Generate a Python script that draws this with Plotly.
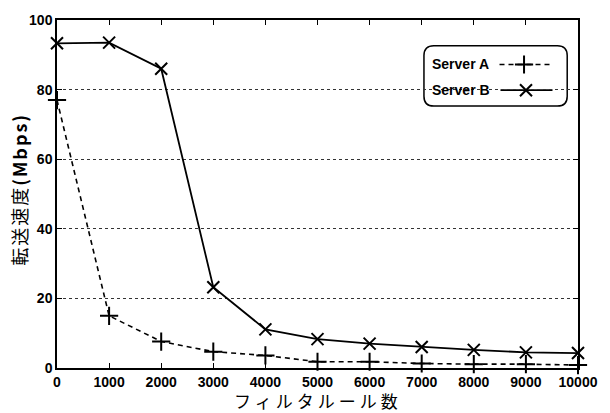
import plotly.graph_objects as go

rules = [0, 1000, 2000, 3000, 4000, 5000, 6000, 7000, 8000, 9000, 10000]
server_a = [77.0, 15.0, 7.6, 4.7, 3.6, 1.8, 1.8, 1.3, 1.1, 1.1, 0.85]
server_b = [93.3, 93.5, 86.0, 23.2, 11.1, 8.3, 7.0, 6.05, 5.2, 4.5, 4.3]
x_ticks = rules
y_ticks = [0, 20, 40, 60, 80, 100]

W, H = 610, 413
ML, MR, MT, MB = 57, 22, 16, 45
PW, PH = W - ML - MR, H - MT - MB


def px(xp):
    return (xp - ML) / PW


def py(yp):
    return (H - MB - yp) / PH


LAT = "Liberation Sans, Arial, Helvetica, sans-serif"
CJK = "Noto Sans CJK JP, Liberation Sans, sans-serif"

fig = go.Figure()
fig.add_trace(go.Scatter(
    x=rules, y=server_a, mode="lines+markers", name="Server A",
    line=dict(color="black", width=1.6, dash="5px,4px"),
    marker=dict(symbol="cross-thin", size=13, line=dict(color="black", width=2)),
    showlegend=False, cliponaxis=False))
fig.add_trace(go.Scatter(
    x=rules, y=server_b, mode="lines+markers", name="Server B",
    line=dict(color="black", width=1.8),
    marker=dict(symbol="x-thin", size=12, line=dict(color="black", width=2)),
    showlegend=False, cliponaxis=False))

# legend sample markers on an overlay axis in [0,1]
fig.add_trace(go.Scatter(
    x=[px(533)], y=[py(61)], xaxis="x2", yaxis="y2", mode="markers",
    marker=dict(symbol="cross-thin", size=13, line=dict(color="black", width=2)),
    showlegend=False, hoverinfo="skip"))
fig.add_trace(go.Scatter(
    x=[px(535)], y=[py(87)], xaxis="x2", yaxis="y2", mode="markers",
    marker=dict(symbol="x-thin", size=12, line=dict(color="black", width=2)),
    showlegend=False, hoverinfo="skip"))

axis_common = dict(
    showline=True, linecolor="black", linewidth=1.5, mirror="ticks",
    ticks="inside", ticklen=5, tickwidth=1, tickcolor="black",
    tickfont=dict(family=LAT, size=14, color="black", weight="bold"),
    zeroline=False,
)

fig.update_layout(
    width=W, height=H,
    margin=dict(l=ML, r=MR, t=MT, b=MB),
    paper_bgcolor="white", plot_bgcolor="white",
    xaxis=dict(range=[0, 10000], tickvals=x_ticks, ticktext=[str(v) for v in x_ticks],
               showgrid=False, **axis_common),
    yaxis=dict(range=[0, 100], tickvals=y_ticks, ticktext=[str(v) for v in y_ticks],
               showgrid=True, gridcolor="#333", griddash="3px,3px", gridwidth=1,
               **axis_common),
    xaxis2=dict(overlaying="x", range=[0, 1], visible=False, fixedrange=True),
    yaxis2=dict(overlaying="y", range=[0, 1], visible=False, fixedrange=True),
)

# rounded legend box
x0, x1, y0, y1 = px(431), px(577), py(103), py(42)
rx, ry = 10 / PW, 10 / PH
path = (f"M {x0+rx},{y1} L {x1-rx},{y1} Q {x1},{y1} {x1},{y1-ry} "
        f"L {x1},{y0+ry} Q {x1},{y0} {x1-rx},{y0} L {x0+rx},{y0} "
        f"Q {x0},{y0} {x0},{y0+ry} L {x0},{y1-ry} Q {x0},{y1} {x0+rx},{y1} Z")
fig.add_shape(type="path", path=path, xref="paper", yref="paper",
              line=dict(color="black", width=1.5), fillcolor="white", layer="between")
fig.add_shape(type="line", xref="paper", yref="paper",
              x0=px(508), x1=px(562), y0=py(61), y1=py(61),
              line=dict(color="black", width=1.6, dash="5px,4px"), layer="between")
fig.add_shape(type="line", xref="paper", yref="paper",
              x0=px(509), x1=px(562), y0=py(87), y1=py(87),
              line=dict(color="black", width=1.8), layer="between")

fig.add_annotation(text="Server A", x=px(437), y=py(61), xref="paper", yref="paper",
                   xanchor="left", yanchor="middle", showarrow=False,
                   font=dict(family=LAT, size=14, color="black", weight="bold"))
fig.add_annotation(text="Server B", x=px(437), y=py(87), xref="paper", yref="paper",
                   xanchor="left", yanchor="middle", showarrow=False,
                   font=dict(family=LAT, size=14, color="black", weight="bold"))

# axis titles
fig.add_annotation(text="<span style='letter-spacing:4px'>フィルタルール数</span>",
                   x=0.5, y=py(401), xref="paper", yref="paper",
                   xanchor="center", yanchor="middle", showarrow=False,
                   font=dict(family=CJK, size=17, color="black"))
fig.add_annotation(text="<span style='letter-spacing:2px'>転送速度<b>(Mbps)</b></span>",
                   x=px(18), y=py(187), xref="paper", yref="paper",
                   xanchor="center", yanchor="middle", textangle=-90, showarrow=False,
                   font=dict(family=CJK, size=18, color="black"))

fig.write_html("out.html")
